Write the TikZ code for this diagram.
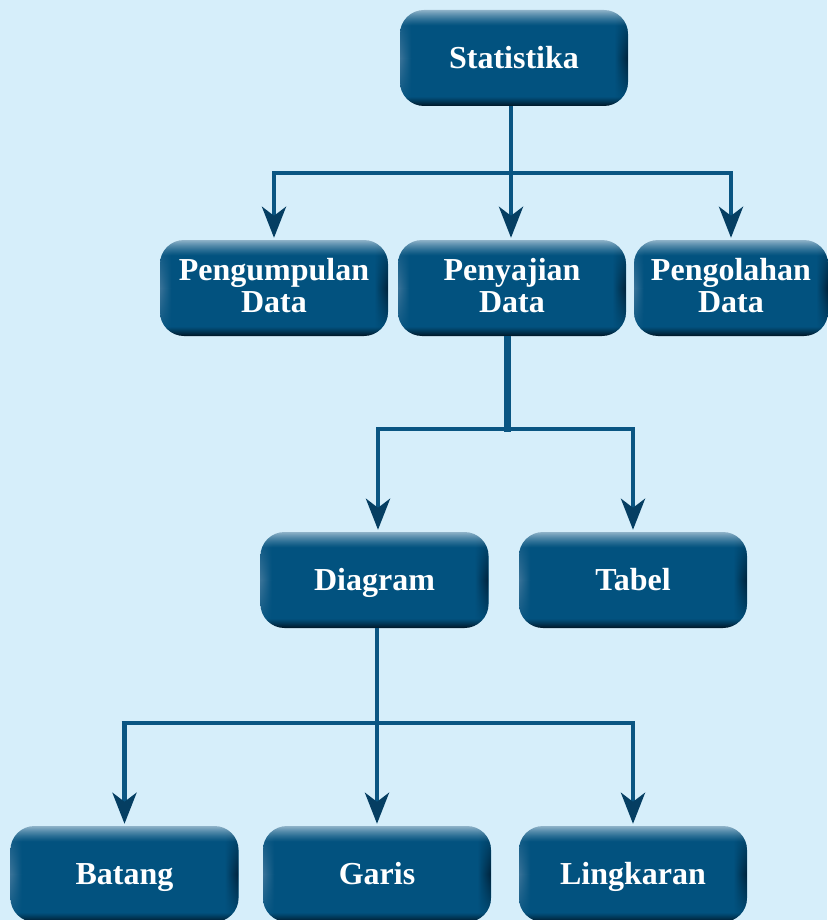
\documentclass[tikz,border=0pt]{standalone}
\usepackage{fontspec}
\setmainfont{Liberation Serif}
\usetikzlibrary{arrows.meta,fadings,calc}
\definecolor{bg}{HTML}{D6EEFA}
\definecolor{bmain}{HTML}{02527F}
\definecolor{bdark}{HTML}{001524}
\definecolor{blight}{HTML}{8FB3C9}
\definecolor{bleft}{HTML}{3A7398}
\definecolor{bright}{HTML}{00223A}
\definecolor{lnc}{HTML}{0A5582}
\definecolor{arc}{HTML}{053E62}
\pgfdeclareverticalshading{boxtb}{100bp}{color(0bp)=(bdark); color(25bp)=(bdark); color(30bp)=(bmain); color(67bp)=(bmain); color(75bp)=(blight); color(100bp)=(blight)}
\pgfdeclarehorizontalshading{boxlr}{100bp}{color(0bp)=(bleft); color(25bp)=(bleft); color(27.5bp)=(bmain); color(72bp)=(bmain); color(75bp)=(bright); color(100bp)=(bright)}
\tikzfading[name=midband, top color=transparent!100, bottom color=transparent!100, middle color=transparent!0]
\begin{document}
\begin{tikzpicture}[x=1pt,y=-1pt,
  box/.style={rectangle, rounded corners=24pt, minimum width=228pt, minimum height=96pt,
    inner sep=0pt, shade, shading=boxtb, text=white, align=center,
    font=\bfseries\fontsize{32}{32}\selectfont,
    path picture={\shade[shading=boxlr, path fading=midband]
      (path picture bounding box.south west) rectangle (path picture bounding box.north east);}},
  one/.style={text height=21pt, text depth=0pt},
  two/.style={text height=53pt, text depth=5pt},
  hline/.style={draw=lnc, line width=4pt},
  bar/.style={draw=lnc, line width=7pt},
  conn/.style={draw=lnc, line width=4.5pt, shorten >=2pt,
    -{Stealth[length=31pt, width=24pt, inset=9pt, color=arc]}}
]
\fill[bg] (0,0) rectangle (827,920);
\useasboundingbox (0,0) rectangle (827,920);

\node[box,one] (stat) at (514,58) {Statistika};
\node[box,two] (pengum) at (274,288) {Pengumpulan\\Data};
\node[box,two] (peny) at (512,288) {Penyajian\\Data};
\node[box,two,minimum width=194pt] (pengol) at (731,288) {Pengolahan\\Data};
\node[box,one] (diag) at (374.5,580) {Diagram};
\node[box,one] (tabel) at (633,580) {Tabel};
\node[box,one] (batang) at (124.5,874) {Batang};
\node[box,one] (garis) at (377,874) {Garis};
\node[box,one] (lingk) at (633,874) {Lingkaran};

% level 1
\coordinate (h1) at (511,173);
\draw[hline] ([xshift=-2pt]pengum.north |- h1) -- ([xshift=2pt]pengol.north |- h1);
\draw[conn] (stat.south -| h1) -- (h1 |- peny.north);
\draw[conn] (pengum.north |- h1) -- (pengum.north);
\draw[conn] (pengol.north |- h1) -- (pengol.north);

% level 2
\coordinate (b2) at (507,432);
\coordinate (h2) at (378,429);
\draw[bar] (peny.south -| b2) -- (b2);
\draw[hline] ([xshift=-2pt]h2) -- ([xshift=2pt]tabel.north |- h2);
\draw[conn] (h2) -- (h2 |- diag.north);
\draw[conn] (tabel.north |- h2) -- (tabel.north);

% level 3
\coordinate (h3) at (0,723);
\draw[hline] ([xshift=-3pt]batang.north |- h3) -- ([xshift=2pt]lingk.north |- h3);
\draw[conn] (diag.south -| garis.north) -- (garis.north);
\draw[conn] (batang.north |- h3) -- (batang.north);
\draw[conn] (lingk.north |- h3) -- (lingk.north);
\end{tikzpicture}
\end{document}
